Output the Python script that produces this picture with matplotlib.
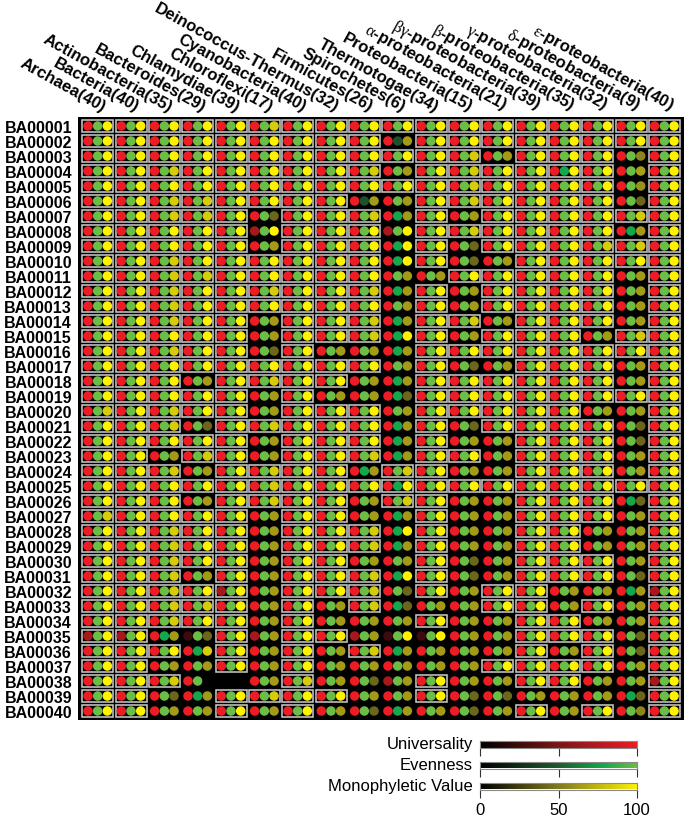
import matplotlib
matplotlib.use("Agg")
import matplotlib.pyplot as plt
import matplotlib.transforms as mtransforms
from matplotlib.colors import LinearSegmentedColormap
from matplotlib.patches import Rectangle
import numpy as np

plt.rcParams['font.family'] = ['Liberation Sans', 'DejaVu Sans']
plt.rcParams['mathtext.fontset'] = 'custom'
plt.rcParams['mathtext.it'] = 'Liberation Serif'
plt.rcParams['mathtext.rm'] = 'Liberation Serif'

taxa = ["Archaea(40)", "Bacteria(40)", "Actinobacteria(35)", "Bacteroides(29)",
        "Chlamydiae(39)", "Chloroflexi(17)", "Cyanobacteria(40)",
        "Deinococcus-Thermus(32)", "Firmicutes(26)", "Spirochetes(6)",
        "Thermotogae(34)", "Proteobacteria(15)", r"$\alpha$-proteobacteria(21)",
        r"$\beta\gamma$-proteobacteria(39)", r"$\beta$-proteobacteria(35)",
        r"$\gamma$-proteobacteria(32)", r"$\delta$-proteobacteria(9)",
        r"$\epsilon$-proteobacteria(40)"]

markers = ["BA00001", "BA00002", "BA00003", "BA00004", "BA00005", "BA00006", "BA00007",
           "BA00008", "BA00009", "BA00010", "BA00011", "BA00012", "BA00013", "BA00014",
           "BA00015", "BA00016", "BA00017", "BA00018", "BA00019", "BA00020", "BA00021",
           "BA00022", "BA00023", "BA00024", "BA00025", "BA00026", "BA00027", "BA00028",
           "BA00029", "BA00030", "BA00031", "BA00032", "BA00033", "BA00034", "BA00035",
           "BA00036", "BA00037", "BA00038", "BA00039", "BA00040"]

universality = [
    [100,100,100,100,100,100,100,100,100,100,100,100,100,100,100,100,100,100],
    [100,100,100,100,100,100,100,100,100,100,100,100,100,100,100,100,100,100],
    [100,100,100,100,100,100,100,100,100,100,100,100,100,100,100,100,100,100],
    [100,100,100,100,100,100,100,100,100,100,100,100,100,100,100,100,100,100],
    [100,100,100,100,100,100,100,100,100,100,100,100,100,100,100,100,100,100],
    [100,100,100,100,100,100,100,100,100,100,100,100,100,100,100,100,100,100],
    [100,100,100,100,100,100,100,100,100,100,100,100,100,100,100,100,100,100],
    [100,100,100,100,100,68,100,100,100,68,100,100,100,100,100,100,100,100],
    [100,100,100,100,100,100,100,100,100,100,100,100,100,100,100,100,100,100],
    [100,100,100,100,100,100,100,100,100,100,100,100,100,100,100,100,100,100],
    [100,100,100,100,100,100,100,100,100,100,100,100,100,100,100,100,100,100],
    [100,100,100,100,100,100,100,100,100,100,100,100,100,100,100,100,100,100],
    [100,100,100,100,100,100,100,100,100,100,100,100,100,100,100,100,100,100],
    [100,100,100,100,100,100,100,100,100,100,100,100,100,100,100,100,100,100],
    [100,100,100,100,100,100,100,100,100,100,100,100,100,100,100,100,100,100],
    [100,100,100,100,100,100,100,100,100,100,100,100,100,100,100,100,100,100],
    [100,100,100,100,100,100,100,100,100,100,100,100,100,100,100,100,100,100],
    [100,100,100,100,100,100,100,100,100,100,100,100,100,100,100,100,100,100],
    [100,100,100,100,100,100,100,100,100,100,100,100,100,100,100,100,100,100],
    [100,100,100,100,100,100,100,100,100,100,100,100,100,100,100,100,100,100],
    [100,100,100,100,100,100,100,100,100,100,100,100,100,100,100,100,100,100],
    [100,100,100,100,100,100,100,100,100,100,100,100,100,100,100,100,100,100],
    [100,100,100,100,100,100,100,100,100,100,100,100,100,100,100,100,100,100],
    [100,100,100,100,100,100,100,100,100,100,100,100,100,100,100,100,100,100],
    [100,100,100,100,100,100,100,100,100,100,100,100,100,100,100,100,100,100],
    [100,100,100,100,100,100,100,100,100,100,100,100,100,100,100,100,100,100],
    [100,100,100,100,100,100,100,100,100,100,100,100,100,100,100,100,100,100],
    [100,100,100,100,100,100,100,100,100,100,100,100,100,100,100,100,100,100],
    [100,100,100,100,100,100,100,100,100,100,100,100,100,100,100,100,100,100],
    [100,100,100,100,100,100,100,100,100,100,100,100,100,100,100,100,100,100],
    [100,100,100,100,100,100,100,100,100,100,100,100,100,100,100,100,100,100],
    [100,100,100,100,68,100,100,100,100,100,100,100,100,100,100,100,100,68],
    [100,100,100,100,100,100,100,100,100,100,100,100,100,100,100,100,100,100],
    [100,100,100,100,100,100,100,100,100,100,100,100,100,100,100,100,100,100],
    [68,68,100,25,100,68,100,100,68,25,25,100,100,100,100,100,100,100],
    [100,100,100,100,100,100,100,100,100,100,100,100,100,100,100,100,100,100],
    [100,100,100,100,100,100,100,100,100,100,100,100,100,100,100,100,100,100],
    [100,100,100,100,0,100,100,100,100,68,100,100,100,100,100,100,100,68],
    [100,100,100,100,100,100,100,100,100,100,100,100,100,100,100,100,100,100],
    [100,100,100,100,100,100,100,100,100,100,100,100,100,100,100,100,100,100],
]

evenness = [
    [100,100,100,100,100,100,100,100,100,100,100,100,100,100,100,100,100,100],
    [100,100,100,100,100,100,100,100,100,45,100,100,100,100,100,100,100,100],
    [100,100,100,100,100,100,100,100,100,100,100,100,100,100,100,100,100,100],
    [100,100,100,100,100,100,100,100,100,100,100,100,100,100,78,100,100,100],
    [100,100,100,100,100,100,100,100,100,100,100,100,100,100,100,100,100,100],
    [100,100,100,100,100,100,100,100,45,100,100,100,100,100,100,100,100,100],
    [100,100,100,100,100,100,100,100,100,78,100,100,100,100,100,100,100,100],
    [100,100,100,100,100,100,100,100,100,100,100,100,100,100,100,100,78,100],
    [100,100,100,100,100,100,100,100,100,78,100,100,100,100,100,100,100,100],
    [100,100,100,100,100,100,100,100,100,78,100,100,100,100,100,100,100,100],
    [100,100,100,100,100,100,100,100,100,100,100,100,100,100,100,100,100,100],
    [100,100,100,100,100,100,100,100,100,78,100,100,100,100,100,100,100,100],
    [100,100,100,100,100,100,100,100,100,100,100,100,100,100,100,100,100,100],
    [100,100,100,100,100,100,100,100,100,78,100,100,100,100,100,100,100,100],
    [100,100,100,100,100,100,100,100,100,78,100,100,100,100,100,100,100,100],
    [100,100,100,100,100,100,100,100,100,78,100,100,100,100,100,100,100,100],
    [100,100,100,100,100,100,100,100,100,100,100,100,100,100,100,100,100,100],
    [100,100,100,100,100,100,100,100,100,78,100,100,100,100,100,100,100,100],
    [100,100,100,100,100,100,100,100,100,78,100,100,100,100,100,100,100,100],
    [100,100,100,100,100,100,100,100,100,100,100,100,100,100,100,100,100,100],
    [100,100,100,100,100,100,100,100,100,78,100,100,100,100,100,100,100,100],
    [100,100,100,100,100,100,100,100,100,78,100,100,100,100,100,100,100,100],
    [100,100,100,100,100,100,100,100,100,78,100,100,100,100,100,100,100,100],
    [100,100,100,100,100,100,100,100,78,100,100,100,100,100,100,100,100,100],
    [100,100,100,100,100,100,100,100,100,78,100,100,100,100,100,100,100,100],
    [100,100,100,100,100,100,100,100,100,100,100,100,100,100,100,100,78,100],
    [100,100,100,100,100,100,100,100,100,78,100,100,100,100,100,100,100,100],
    [100,100,100,100,100,100,100,100,100,78,100,100,100,100,100,100,100,100],
    [100,100,100,100,100,100,100,100,100,78,100,100,100,100,100,100,100,100],
    [100,100,100,100,100,100,100,100,100,100,100,100,100,100,100,100,100,100],
    [100,100,100,100,100,100,100,100,100,78,100,100,100,100,100,100,100,100],
    [100,100,100,100,100,100,100,100,100,100,100,100,100,100,100,100,78,100],
    [100,100,100,100,100,100,100,100,100,78,100,100,100,100,100,100,100,100],
    [100,100,100,100,100,100,100,100,100,100,100,100,100,100,100,100,100,100],
    [100,100,78,100,100,100,100,100,100,100,100,100,100,100,100,100,100,100],
    [100,100,100,78,100,100,100,100,100,78,100,100,100,100,100,100,100,100],
    [100,100,100,100,100,100,100,100,100,100,100,100,100,100,100,100,100,100],
    [100,100,100,100,0,100,100,100,100,100,100,100,100,100,100,100,100,100],
    [100,100,100,78,100,100,100,100,100,100,100,100,100,100,100,100,78,100],
    [100,100,100,100,100,100,100,100,100,78,100,100,100,100,100,100,100,100],
]

monophyly = [
    [100,100,100,100,100,84,100,100,100,100,100,100,100,100,100,100,100,100],
    [100,100,100,100,100,100,100,100,100,64,100,100,100,100,100,100,100,100],
    [100,100,100,100,100,100,100,100,100,100,100,84,64,100,100,100,55,100],
    [100,100,84,100,100,100,100,100,84,64,100,84,100,100,100,100,66,100],
    [100,100,100,100,100,100,100,100,100,100,100,84,100,100,100,100,60,100],
    [100,100,84,84,100,100,100,100,64,64,100,84,100,100,100,100,42,100],
    [100,100,84,84,100,42,100,100,84,64,100,64,100,100,100,100,84,100],
    [100,100,100,100,100,100,100,100,100,100,100,84,100,100,100,100,64,100],
    [100,100,100,100,100,64,100,100,100,100,100,42,100,100,100,84,84,100],
    [100,100,84,100,100,100,100,100,100,100,100,42,64,100,100,100,100,100],
    [100,100,84,84,100,100,100,100,100,64,64,100,100,100,100,100,64,100],
    [100,100,84,100,100,84,100,100,84,64,100,64,100,100,100,100,64,100],
    [100,100,84,100,100,100,100,100,100,64,100,64,100,100,100,100,64,100],
    [100,100,84,100,100,64,100,100,84,64,100,84,64,100,100,100,64,100],
    [100,100,100,100,100,64,100,100,84,100,100,64,100,100,100,64,84,100],
    [100,100,84,100,100,42,100,64,64,64,100,100,100,100,100,100,100,100],
    [100,100,100,100,100,100,100,100,100,64,100,42,64,100,100,100,64,100],
    [100,100,100,64,100,84,100,100,64,64,100,100,100,100,100,100,64,100],
    [100,100,100,100,100,64,100,64,64,42,100,100,100,100,100,100,100,100],
    [84,100,84,100,100,64,100,100,100,64,100,100,100,100,100,64,64,100],
    [100,100,84,42,100,84,100,100,100,64,100,42,100,100,100,100,42,100],
    [100,100,100,100,100,64,100,100,100,64,100,64,64,100,100,100,42,100],
    [100,100,64,84,100,64,100,100,84,64,100,100,64,100,100,100,64,100],
    [100,100,84,64,100,84,100,100,64,84,100,64,64,100,100,100,64,100],
    [100,100,100,100,100,84,100,100,100,100,100,100,100,100,100,100,100,100],
    [100,100,100,64,100,84,100,100,64,84,100,64,64,100,100,100,42,100],
    [84,100,100,100,100,64,100,100,64,64,100,64,64,100,100,100,64,100],
    [100,100,84,100,100,64,100,100,84,100,100,64,64,100,100,64,64,100],
    [100,100,84,100,100,64,100,100,84,64,100,64,64,100,100,64,64,100],
    [100,100,84,100,100,64,100,100,64,64,100,42,64,100,100,100,64,100],
    [100,100,84,64,100,64,100,100,84,100,100,42,64,100,100,100,42,100],
    [100,100,84,100,100,64,100,100,84,42,100,64,100,100,64,64,64,100],
    [100,100,84,84,100,64,100,64,84,42,64,64,100,100,64,100,64,100],
    [100,100,84,100,100,64,100,64,64,64,100,64,64,100,100,64,64,100],
    [100,100,64,42,100,64,100,100,64,100,100,64,64,100,100,100,42,100],
    [100,100,100,84,100,64,100,64,84,64,64,64,64,100,64,100,42,100],
    [100,100,64,64,100,64,100,64,64,64,64,64,100,100,100,100,64,100],
    [100,100,84,0,0,64,84,64,42,64,100,64,64,100,100,64,64,100],
    [100,100,42,64,100,84,100,100,64,64,100,42,42,64,64,64,42,100],
    [100,100,64,64,100,64,100,64,42,64,64,42,64,100,64,100,55,100],
]

monophyletic_box = [
    [1,1,1,1,1,1,1,1,1,1,1,1,1,1,1,1,1,1],
    [1,1,1,1,1,1,1,1,1,0,1,1,1,1,1,1,1,1],
    [1,1,1,1,1,1,1,1,1,1,1,1,0,1,1,1,0,1],
    [1,1,1,1,1,1,1,1,1,0,1,1,1,1,1,1,0,1],
    [1,1,1,1,1,1,1,1,1,1,1,1,1,1,1,1,0,1],
    [1,1,1,1,1,1,1,1,0,0,1,1,1,1,1,1,0,1],
    [1,1,1,1,1,0,1,1,1,0,1,0,1,1,1,1,1,1],
    [1,1,1,1,1,0,1,1,1,0,1,1,1,1,1,1,0,1],
    [1,1,1,1,1,0,1,1,1,0,1,0,1,1,1,1,1,1],
    [1,1,1,1,1,1,1,1,1,0,1,0,0,1,1,1,1,1],
    [1,1,1,1,1,1,1,1,1,0,0,1,1,1,1,1,0,1],
    [1,1,1,1,1,1,1,1,1,0,1,0,1,1,1,1,0,1],
    [1,1,1,1,1,1,1,1,1,0,1,0,1,1,1,1,0,1],
    [1,1,1,1,1,0,1,1,1,0,1,1,0,1,1,1,0,1],
    [1,1,1,1,1,0,1,1,1,0,1,0,1,1,1,0,1,1],
    [1,1,1,1,1,0,1,0,0,0,1,1,1,1,1,1,1,1],
    [1,1,1,1,1,1,1,1,1,0,1,0,0,1,1,1,0,1],
    [1,1,1,0,1,1,1,1,0,0,1,1,1,1,1,1,0,1],
    [1,1,1,1,1,0,1,0,0,0,1,1,1,1,1,1,1,1],
    [1,1,1,1,1,0,1,1,1,0,1,1,1,1,1,0,0,1],
    [1,1,1,0,1,1,1,1,1,0,1,0,1,1,1,1,0,1],
    [1,1,1,1,1,0,1,1,1,0,1,0,0,1,1,1,0,1],
    [1,1,0,1,1,0,1,1,1,0,1,1,0,1,1,1,0,1],
    [1,1,1,0,1,1,1,1,0,1,1,0,0,1,1,1,0,1],
    [1,1,1,1,1,1,1,1,1,1,1,1,1,1,1,1,1,1],
    [1,1,1,0,1,1,1,1,0,1,1,0,0,1,1,1,0,1],
    [1,1,1,1,1,0,1,1,0,0,1,0,0,1,1,1,0,1],
    [1,1,1,1,1,0,1,1,1,0,1,0,0,1,1,0,0,1],
    [1,1,1,1,1,0,1,1,1,0,1,0,0,1,1,0,0,1],
    [1,1,1,1,1,0,1,1,0,0,1,0,0,1,1,1,0,1],
    [1,1,1,0,1,0,1,1,1,0,1,0,0,1,1,1,0,1],
    [1,1,1,1,1,0,1,1,1,0,1,0,1,1,0,0,0,1],
    [1,1,1,1,1,0,1,0,1,0,0,0,1,1,0,1,0,1],
    [1,1,1,1,1,0,1,0,0,0,1,0,0,1,1,0,0,1],
    [1,1,0,0,1,0,1,1,0,0,0,0,0,1,1,1,0,1],
    [1,1,1,0,1,0,1,0,1,0,0,0,0,1,0,1,0,1],
    [1,1,0,0,1,0,1,0,0,0,0,0,1,1,1,1,0,1],
    [1,1,1,0,0,0,1,0,0,0,1,0,0,1,1,0,0,1],
    [1,1,0,0,1,1,1,1,0,0,1,0,0,0,0,0,0,1],
    [1,1,0,0,1,0,1,0,0,0,0,0,0,1,0,1,0,1],
]

legend_names = ["Universality", "Evenness", "Monophyletic Value"]
legend_ticks = [0, 50, 100]

# ---------------- colour scales ----------------
cmap_uni = LinearSegmentedColormap.from_list(
    "uni", [(0, "#000000"), (0.5, "#7d1517"), (1, "#ed1c24")])
cmap_even = LinearSegmentedColormap.from_list(
    "even", [(0, "#000000"), (0.5, "#1f5a30"), (0.78, "#12a84b"), (1, "#6abd45")])
cmap_mono = LinearSegmentedColormap.from_list(
    "mono", [(0, "#000000"), (0.5, "#807a20"), (1, "#fff200")])
cmaps = [cmap_uni, cmap_even, cmap_mono]

W, H = 687, 820
fig = plt.figure(figsize=(W / 100, H / 100), dpi=100)


def px_axes(x0, y0, x1, y1):
    return fig.add_axes([x0 / W, 1 - y1 / H, (x1 - x0) / W, (y1 - y0) / H])


ax = px_axes(78, 118, 683.5, 721)
ax.set_facecolor("black")
ax.set_xlim(-0.09, 18.075)
ax.set_ylim(40.1, -0.1)
for s in ax.spines.values():
    s.set_visible(False)

nrow, ncol = len(markers), len(taxa)
cc, rr = np.meshgrid(np.arange(ncol), np.arange(nrow))
dx = 9.7 / 33.33
for k, (vals, cm) in enumerate(zip([universality, evenness, monophyly], cmaps)):
    v = np.asarray(vals, dtype=float).ravel()
    ax.scatter(cc.ravel() + 0.5 + (k - 1) * dx, rr.ravel() + 0.5,
               c=cm(v / 100.0), s=47, linewidths=0, zorder=3)

box = np.asarray(monophyletic_box)
for r in range(nrow):
    for c in range(ncol):
        if box[r, c]:
            ax.add_patch(Rectangle((c + 0.5 - 0.465, r + 0.5 - 0.39), 0.93, 0.78,
                                   fill=False, ec="#c6c6c6", lw=1.15, zorder=2))

ax.set_yticks(np.arange(nrow) + 0.5)
ax.set_yticklabels(markers, fontsize=11.5, fontweight="bold")
ax.tick_params(axis="y", length=0, pad=4.3)
ax.set_xticks([])

trans = mtransforms.blended_transform_factory(ax.transData, ax.transAxes) + \
    mtransforms.ScaledTranslation(0, 2 / 72, fig.dpi_scale_trans)
for c, lab in enumerate(taxa):
    ax.text(c + 0.6, 1.0, lab, transform=trans, rotation=-29, ha="right", va="bottom",
            rotation_mode="anchor", fontsize=12, fontweight="bold")

# ---------------- legend bars ----------------
bar_tops = [741.5, 762.5, 783.5]
grad = np.linspace(0, 100, 256)[None, :]
for i, (name, cm, y0) in enumerate(zip(legend_names, cmaps, bar_tops)):
    bax = px_axes(480, y0, 637, y0 + 7)
    bax.imshow(grad, cmap=cm, aspect="auto", extent=(0, 100, 0, 1), vmin=0, vmax=100)
    bax.set_xlim(0, 100)
    bax.set_ylim(0, 1)
    bax.set_yticks([])
    bax.set_xticks(legend_ticks)
    bax.tick_params(axis="x", length=5.5, width=0.8, color="#333333", direction="out",
                    labelsize=12, pad=3.5, labelbottom=(i == len(legend_names) - 1))
    for s in bax.spines.values():
        s.set_color("#8a8a8a")
        s.set_linewidth(0.8)
    bax.text(-0.045, 0.5, name, transform=bax.transAxes, ha="right", va="center",
             fontsize=12)

fig.savefig("out.png", dpi=100, facecolor="white")
